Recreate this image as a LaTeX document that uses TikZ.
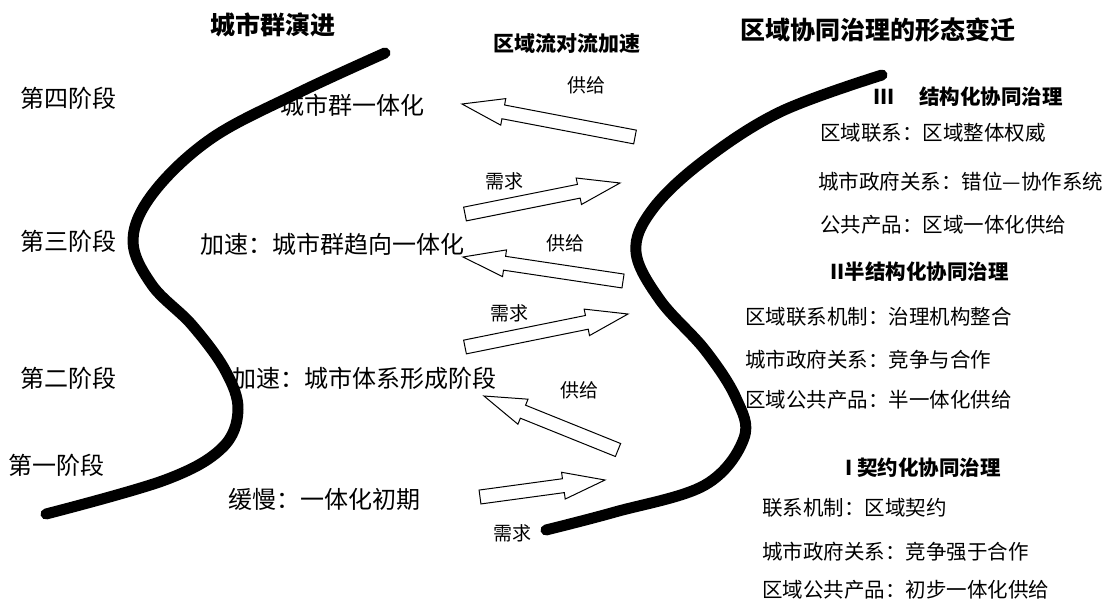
\documentclass[tikz,border=0pt]{standalone}
\usepackage{fontspec}
\newfontfamily\cjk{Noto Sans CJK SC}
\usetikzlibrary{calc}
\tikzset{
  txt/.style={anchor=west, inner sep=0pt, font=\cjk\fontsize{24}{28}\selectfont},
  ttl/.style={anchor=west, inner sep=0pt, font=\cjk\bfseries\fontsize{25}{29}\selectfont},
  ttlsmall/.style={anchor=west, inner sep=0pt, font=\cjk\bfseries\fontsize{21}{25}\selectfont},
  lbl/.style={anchor=west, inner sep=0pt, font=\cjk\fontsize{19}{22}\selectfont},
  rtxt/.style={anchor=west, inner sep=0pt, font=\cjk\fontsize{20.5}{24}\selectfont},
  rhead/.style={anchor=west, inner sep=0pt, font=\cjk\bfseries\fontsize{20.5}{24}\selectfont},
  barrow/.style={draw=black, fill=white, line width=1pt, line join=miter},
  wave/.style={draw=black, line width=11pt, line cap=round, line join=round}
}
\newcommand{\blockarrow}[3]{%
  \coordinate (#3-b) at ($(#2)!42pt!(#1)$);
  \draw[barrow] ($(#1)!7pt!90:(#2)$) -- ($(#3-b)!7pt!90:(#2)$) -- ($(#3-b)!13.5pt!90:(#2)$) -- (#2)
    -- ($(#3-b)!13.5pt!-90:(#2)$) -- ($(#3-b)!7pt!-90:(#2)$) -- ($(#1)!7pt!-90:(#2)$) -- cycle;
}
\begin{document}
\begin{tikzpicture}[x=1pt,y=-1pt]
\useasboundingbox[fill=white] (0,0) rectangle (1106,606);
% titles
\node[ttl] (t1) at (210,25) {城市群演进};
\node[ttlsmall] (t2) at (493,43) {区域流对流加速};
\node[ttl] (t3) at (740,30) {区域协同治理的形态变迁};
% stages
\node[txt] (s4) at (20,98) {第四阶段};
\node[txt] (s3) at (20,241) {第三阶段};
\node[txt] (s2) at (20,378) {第二阶段};
\node[txt] (s1) at (8,465) {第一阶段};
% descriptions
\node[txt] (d4) at (280,105) {城市群一体化};
\node[txt] (d3) at (200,244) {加速：城市群趋向一体化};
\node[txt] (d2) at (232,378) {加速：城市体系形成阶段};
\node[txt] (d1) at (228,499) {缓慢：一体化初期};
% arrow labels
\node[lbl] (g1) at (567,85) {供给};
\node[lbl] (x1) at (485,181) {需求};
\node[lbl] (g2) at (546,243) {供给};
\node[lbl] (x2) at (490,313) {需求};
\node[lbl] (g3) at (560,390) {供给};
\node[lbl] (x3) at (493,533) {需求};
% right side
\node[rhead] (h3) at (873,97) {III\hspace{1.2em}结构化协同治理};
\node[rtxt] (r31) at (820,133) {区域联系：区域整体权威};
\node[rtxt] (r32) at (818,182) {城市政府关系：错位—协作系统};
\node[rtxt] (r33) at (820,225) {公共产品：区域一体化供给};
\node[rhead] (h2) at (830,272) {II半结构化协同治理};
\node[rtxt] (r21) at (745,317) {区域联系机制：治理机构整合};
\node[rtxt] (r22) at (745,360) {城市政府关系：竞争与合作};
\node[rtxt] (r23) at (745,400) {区域公共产品：半一体化供给};
\node[rhead] (h1) at (845,468) {I 契约化协同治理};
\node[rtxt] (r11) at (762,508) {联系机制：区域契约};
\node[rtxt] (r12) at (762,552) {城市政府关系：竞争强于合作};
\node[rtxt] (r13) at (762,590) {区域公共产品：初步一体化供给};
% block arrows
\coordinate (a1t) at (635,137); \coordinate (a1h) at (462,104);
\coordinate (a2t) at (465,214); \coordinate (a2h) at (620,183);
\coordinate (a3t) at (623,281); \coordinate (a3h) at (463,257);
\coordinate (a4t) at (465,347); \coordinate (a4h) at (628,314);
\coordinate (a5t) at (618,450); \coordinate (a5h) at (484,396);
\coordinate (a6t) at (480,497); \coordinate (a6h) at (605,480);
\blockarrow{a1t}{a1h}{a1}
\blockarrow{a2t}{a2h}{a2}
\blockarrow{a3t}{a3h}{a3}
\blockarrow{a4t}{a4h}{a4}
\blockarrow{a5t}{a5h}{a5}
\blockarrow{a6t}{a6h}{a6}
% waves
\draw[wave] plot[smooth, tension=0.6] coordinates {(385,53) (298,93) (212,138) (154,192) (133,240) (152,285) (192,325) (225,370) (238,410) (222,448) (165,480) (46,514)};
\draw[wave] plot[smooth, tension=0.6] coordinates {(882,75) (780,112) (702,162) (652,210) (636,252) (660,300) (705,350) (736,398) (744,438) (705,485) (615,512) (546,530)};
\end{tikzpicture}
\end{document}
